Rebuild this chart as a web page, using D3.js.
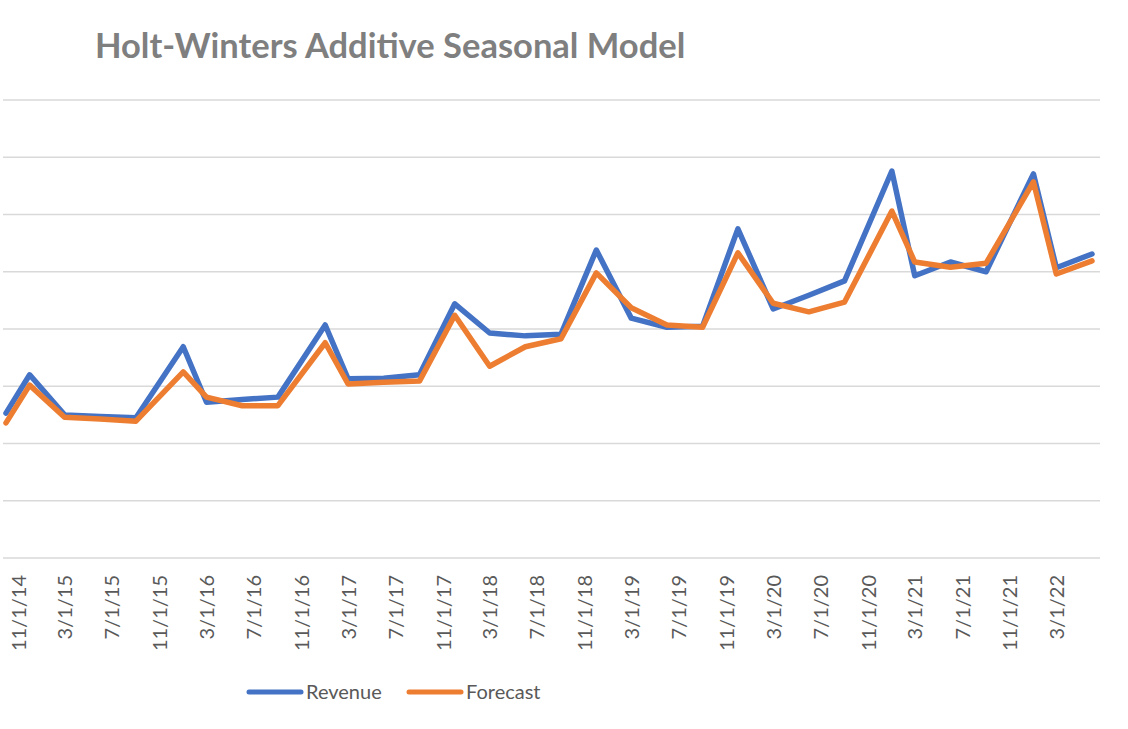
<!DOCTYPE html>
<html>
<head>
<meta charset="utf-8">
<script src="https://cdn.jsdelivr.net/npm/d3@7/dist/d3.min.js"></script>
<style>
  html, body { margin: 0; padding: 0; background: #fff; }
  svg { display: block; }
</style>
</head>
<body>
<div id="chart"></div>
<script>
// quarterly observations (month/day as they sit on the date axis)
const dates = [
  '2014-10-01', '2014-12-01', '2015-03-01', '2015-06-01', '2015-09-01',
  '2016-01-01', '2016-03-01', '2016-06-01', '2016-09-01',
  '2017-01-01', '2017-03-01', '2017-06-01', '2017-09-01',
  '2017-12-01', '2018-03-01', '2018-06-01', '2018-09-01',
  '2018-12-01', '2019-03-01', '2019-06-01', '2019-09-01',
  '2019-12-01', '2020-03-01', '2020-06-01', '2020-09-01',
  '2021-01-01', '2021-03-01', '2021-06-01', '2021-09-01',
  '2022-01-01', '2022-03-01', '2022-06-01'
];

const revenue = [
  253, 320, 250, 247, 245,
  369, 272, 277, 281,
  407, 313, 314, 320,
  444, 393, 388, 391,
  538, 419, 403, 405,
  575, 435, 459, 484,
  676, 493, 517, 500,
  671, 507, 531
];

const forecast = [
  236, 302, 246, 243, 239,
  325, 281, 266, 266,
  376, 304, 307, 309,
  424, 335, 369, 383,
  498, 437, 407, 403,
  533, 445, 430, 447,
  606, 517, 508, 515,
  657, 496, 519
];

const seriesNames = ['Revenue', 'Forecast'];
const seriesColors = ['#4472C4', '#ED7D31'];
const yTicks = [0, 100, 200, 300, 400, 500, 600, 700, 800];
const title = 'Holt-Winters Additive Seasonal Model';

const width = 1128;
const height = 729;
const plotLeft = 3, plotRight = 1100, plotTop = 100, plotBottom = 558;

const parse = d3.timeParse('%Y-%m-%d');
const dateObjs = dates.map(parse);

const svg = d3.select('#chart')
  .append('svg')
  .attr('width', width)
  .attr('height', height);

const x = d3.scaleTime()
  .domain([parse('2014-10-01'), parse('2022-06-01')])
  .range([6, 1092]);

const y = d3.scaleLinear()
  .domain([0, 800])
  .range([plotBottom, plotTop]);

// title
svg.append('text')
  .attr('x', 95)
  .attr('y', 58)
  .style('font-family', 'Lato, "Open Sans", sans-serif')
  .style('font-weight', 'bold')
  .style('font-size', '34.5px')
  .style('fill', '#7f7f7f')
  .text(title);

// horizontal gridlines
svg.append('g')
  .selectAll('line')
  .data(yTicks)
  .enter().append('line')
  .attr('x1', plotLeft)
  .attr('x2', plotRight)
  .attr('y1', d => y(d))
  .attr('y2', d => y(d))
  .style('stroke', '#d9d9d9')
  .style('stroke-width', 1.5);

// x axis, a label every 4 months
const tickDates = d3.timeMonth.range(parse('2014-11-01'), parse('2022-04-01'), 4);
const fmt = d3.timeFormat('%-m/%-d/%y');

const xAxis = svg.append('g')
  .attr('transform', `translate(0,${plotBottom})`)
  .call(d3.axisBottom(x).tickValues(tickDates).tickFormat(fmt).tickSize(0));

xAxis.select('.domain').remove();
xAxis.selectAll('text')
  .attr('transform', 'rotate(-90)')
  .attr('x', -17)
  .attr('y', 0)
  .attr('dy', '0.35em')
  .attr('text-anchor', 'end')
  .style('font-family', 'Lato, "Open Sans", sans-serif')
  .style('font-size', '20px')
  .style('fill', '#595959');

// lines
const line = d3.line()
  .x((d, i) => x(dateObjs[i]))
  .y(d => y(d));

[revenue, forecast].forEach((vals, k) => {
  svg.append('path')
    .datum(vals)
    .attr('d', line)
    .style('fill', 'none')
    .style('stroke', seriesColors[k])
    .style('stroke-width', 5.5)
    .style('stroke-linejoin', 'round')
    .style('stroke-linecap', 'round');
});

// legend
const legend = svg.append('g')
  .selectAll('g')
  .data(seriesNames)
  .enter().append('g')
  .attr('transform', (d, i) => `translate(${249 + i * 160},692)`);

legend.append('line')
  .attr('x1', 0)
  .attr('x2', 52)
  .style('stroke', (d, i) => seriesColors[i])
  .style('stroke-width', 5)
  .style('stroke-linecap', 'round');

legend.append('text')
  .attr('x', 57)
  .attr('dy', '0.35em')
  .style('font-family', 'Lato, "Open Sans", sans-serif')
  .style('font-size', '20px')
  .style('fill', '#595959')
  .text(d => d);
</script>
</body>
</html>
